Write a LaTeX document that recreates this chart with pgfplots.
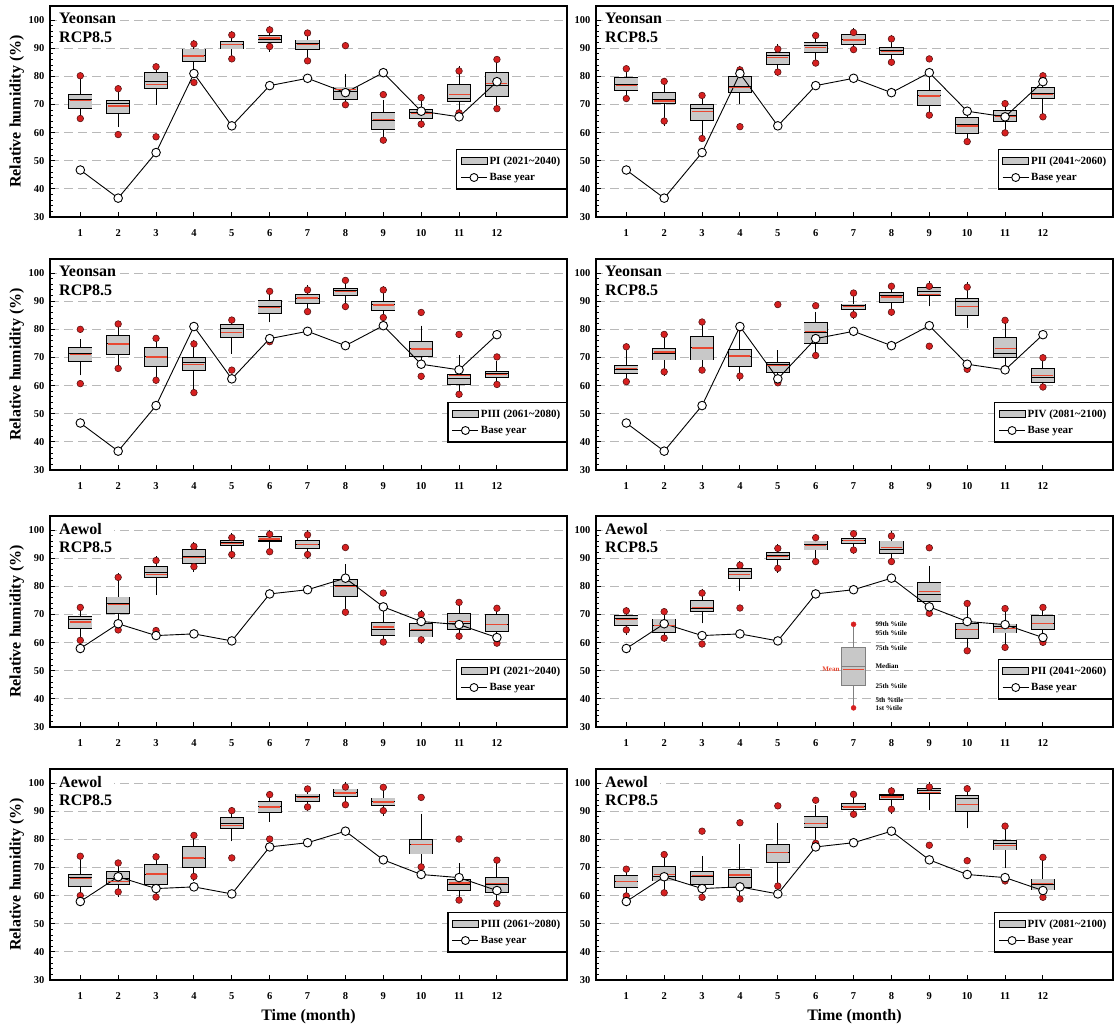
\documentclass[border=0pt]{standalone}
\usepackage{fontspec}
\setmainfont{Liberation Serif}
\usepackage{pgfplots}
\pgfplotsset{compat=1.18}
\usepackage{pgfplotstable}

\definecolor{boxgray}{RGB}{200,200,200}
\definecolor{gridgray}{RGB}{185,185,185}
\definecolor{meanred}{RGB}{232,72,50}
\definecolor{dotred}{RGB}{215,32,32}
\definecolor{dotedge}{RGB}{90,20,20}

% columns: month, 1st, 5th, 25th, median, mean, 75th, 95th, 99th percentile
\pgfplotstableread{
m p1 p5 p25 med mean p75 p95 p99
1 65.0 68.0 68.7 71.7 71.5 73.7 77.1 80.2
2 59.3 64.1 66.9 70.2 69.4 71.5 73.0 75.6
3 58.5 72.1 75.6 78.2 77.1 81.3 81.9 83.4
4 77.8 81.5 85.3 87.4 87.2 89.7 90.9 91.5
5 86.2 87.6 89.7 91.5 91.2 92.5 93.9 94.7
6 90.6 90.9 92.1 93.3 93.6 94.5 95.9 96.5
7 85.5 86.6 89.4 91.6 91.3 92.9 94.5 95.4
8 69.9 71.1 71.7 74.8 75.3 76.2 78.6 90.9
9 57.3 59.9 61.1 64.4 64.6 67.0 69.5 73.5
10 63.0 63.8 65.0 67.0 66.8 68.2 71.5 72.4
11 67.0 69.4 70.9 72.1 73.6 77.0 81.5 81.9
12 68.5 69.9 72.7 76.8 77.4 81.5 84.8 86.0
}\YI
\pgfplotstableread{
m p1 p5 p25 med mean p75 p95 p99
1 72.1 72.9 75.0 77.0 76.8 79.5 81.5 82.7
2 64.1 64.4 70.3 71.9 71.2 74.1 77.4 78.2
3 57.9 59.5 64.2 68.5 67.4 69.9 72.1 73.2
4 62.1 72.3 74.4 76.4 76.0 80.0 81.7 82.3
5 81.5 82.1 84.2 87.6 86.8 88.6 89.2 89.7
6 84.7 86.2 88.6 91.0 90.3 92.1 93.3 94.5
7 89.5 90.3 91.2 93.3 92.9 94.8 95.1 95.6
8 85.0 86.8 87.6 89.1 88.9 90.3 92.7 93.3
9 66.2 68.3 69.5 73.2 73.0 75.0 79.7 86.2
10 56.8 58.8 59.7 62.9 62.3 65.4 66.5 67.8
11 59.9 62.3 63.8 66.2 65.8 67.9 68.9 70.3
12 65.6 68.2 72.1 73.8 73.6 76.0 78.3 80.2
}\YII
\pgfplotstableread{
m p1 p5 p25 med mean p75 p95 p99
1 60.7 65.8 68.7 71.4 71.1 73.6 74.4 80.0
2 66.1 67.9 71.2 75.0 74.8 77.7 80.7 81.9
3 61.9 64.5 66.7 70.5 70.2 73.6 74.8 76.8
4 57.5 60.1 65.5 68.4 67.6 69.9 74.2 74.8
5 65.5 73.5 77.0 80.4 78.8 81.8 82.3 83.3
6 75.6 84.6 85.5 88.0 87.7 90.1 91.3 93.5
7 86.3 87.3 89.3 91.0 91.1 92.3 93.5 94.0
8 88.1 88.9 92.0 93.7 93.5 94.6 94.9 97.4
9 84.2 84.9 86.7 88.9 88.7 89.9 93.1 94.0
10 63.3 69.6 70.2 73.3 73.0 75.6 79.2 86.0
11 56.9 59.9 60.5 62.5 63.5 64.0 68.8 78.2
12 60.4 61.5 62.9 64.2 64.0 65.1 66.7 70.2
}\YIII
\pgfplotstableread{
m p1 p5 p25 med mean p75 p95 p99
1 61.4 62.5 64.3 65.8 66.1 67.3 70.8 73.8
2 64.9 65.5 69.1 71.4 71.9 73.1 75.0 78.2
3 65.5 67.5 69.1 73.6 73.4 77.6 81.7 82.6
4 63.4 63.8 66.7 70.3 70.5 72.8 78.7 80.5
5 61.0 62.8 64.6 67.5 67.2 68.1 70.5 88.8
6 70.7 73.2 75.0 79.0 79.3 82.3 84.1 88.4
7 85.2 85.8 87.0 88.4 88.2 89.0 91.1 92.9
8 86.1 87.0 89.4 92.0 91.5 93.2 94.5 95.3
9 74.0 90.3 92.0 93.5 92.3 94.9 95.0 95.3
10 65.8 82.6 84.9 90.0 88.0 91.1 94.7 95.0
11 66.0 69.5 70.1 71.3 73.2 77.2 81.7 83.2
12 59.5 60.4 61.0 63.0 63.6 66.0 68.5 69.9
}\YIV
\pgfplotstableread{
m p1 p5 p25 med mean p75 p95 p99
1 60.8 63.2 65.0 68.4 67.3 69.2 70.3 72.5
2 64.5 65.5 70.2 74.0 73.6 76.2 82.5 83.2
3 64.3 79.0 83.0 85.0 84.2 87.0 88.5 89.2
4 87.0 87.3 88.0 90.5 90.3 93.0 93.5 94.2
5 91.3 92.0 94.5 95.5 95.3 96.3 96.8 97.3
6 92.3 94.8 95.8 96.5 96.8 97.8 98.0 98.5
7 91.3 91.8 93.3 95.0 94.8 96.3 97.8 98.3
8 70.8 71.8 76.3 80.5 80.0 82.5 85.8 93.8
9 60.2 61.8 62.5 64.8 65.5 67.3 71.0 77.6
10 61.0 61.5 62.0 64.5 64.7 66.8 69.5 70.0
11 62.3 63.2 64.5 67.0 67.5 70.3 72.8 74.3
12 59.8 61.5 63.8 66.5 66.5 70.0 71.2 72.2
}\AI
\pgfplotstableread{
m p1 p5 p25 med mean p75 p95 p99
1 64.5 64.8 66.0 68.5 68.1 69.5 70.4 71.3
2 61.6 62.5 63.6 66.0 66.2 68.4 69.0 71.0
3 59.5 69.0 71.1 72.0 72.5 75.1 77.0 77.6
4 72.3 80.5 82.8 85.2 84.3 86.4 86.9 87.5
5 86.4 87.0 89.6 91.0 90.6 92.0 92.9 93.5
6 88.8 89.6 92.9 95.0 94.6 96.1 96.3 97.3
7 92.9 93.7 95.3 96.4 96.3 97.0 97.3 98.7
8 88.8 90.0 91.7 93.2 93.7 96.1 97.6 97.9
9 70.4 71.9 74.5 77.0 78.2 81.3 85.1 93.7
10 57.1 59.3 61.5 64.8 64.6 66.9 71.1 73.9
11 58.3 61.3 63.4 65.6 65.1 66.6 70.4 72.1
12 60.1 62.5 64.8 67.0 66.8 69.5 71.3 72.5
}\AII
\pgfplotstableread{
m p1 p5 p25 med mean p75 p95 p99
1 60.0 61.9 63.1 66.3 66.0 67.5 70.4 74.0
2 61.3 61.6 63.9 66.0 65.1 68.7 69.6 71.6
3 59.5 61.0 63.9 67.5 67.7 71.0 72.6 73.8
4 66.8 67.5 69.9 73.2 73.4 77.5 79.0 81.4
5 73.4 81.4 83.8 85.6 85.0 87.8 89.4 90.2
6 80.1 88.4 89.4 91.8 91.5 93.5 95.0 95.9
7 91.5 92.3 93.5 95.1 94.9 96.1 97.0 97.9
8 92.3 94.1 95.3 96.7 96.5 97.9 98.2 98.6
9 90.2 90.5 92.0 93.5 93.3 94.7 96.2 98.5
10 70.2 72.0 74.8 78.3 78.1 79.9 87.0 94.9
11 58.4 60.2 61.9 63.9 64.5 65.7 69.3 80.1
12 57.2 59.8 61.0 63.9 64.2 66.3 70.1 72.6
}\AIII
\pgfplotstableread{
m p1 p5 p25 med mean p75 p95 p99
1 59.9 60.8 62.8 65.1 64.9 67.1 67.9 69.4
2 61.0 62.3 65.2 66.9 67.5 70.2 73.4 74.6
3 59.4 62.8 63.8 67.0 67.1 68.5 72.0 82.9
4 58.8 61.2 62.9 66.4 67.3 69.4 76.2 85.9
5 63.4 64.9 71.7 75.3 75.3 78.3 83.6 91.9
6 78.6 78.8 84.2 85.8 85.6 88.2 90.0 93.9
7 88.9 90.0 90.6 91.7 91.5 92.7 94.1 96.0
8 90.7 91.3 94.1 95.5 95.0 96.0 96.5 97.2
9 77.9 92.4 96.2 97.4 96.6 98.0 98.3 98.6
10 72.4 86.0 90.0 94.7 92.4 95.6 96.2 98.0
11 65.2 71.8 76.2 78.5 77.7 79.7 83.6 84.7
12 59.4 61.4 62.0 64.0 64.3 65.9 70.5 73.6
}\AIV
% explanatory key box (panel Aewol PII)
\pgfplotstableread{
m p1 p5 p25 med mean p75 p95 p99
7 36.8 39.4 44.7 51.4 50.6 58.1 63.5 66.5
}\KEY
\pgfplotstableread{
m y
1 46.7
2 36.7
3 52.9
4 81.0
5 62.4
6 76.7
7 79.3
8 74.2
9 81.3
10 67.6
11 65.6
12 78.1
}\baseY
\pgfplotstableread{
m y
1 57.9
2 66.7
3 62.5
4 63.1
5 60.6
6 77.3
7 78.8
8 82.9
9 72.7
10 67.5
11 66.4
12 61.8
}\baseA

\pgfplotsset{
  panel/.style={
    scale only axis, width=517pt, height=211pt, anchor=south west,
    xmin=0.2, xmax=13.85, ymin=30, ymax=105,
    xtick={1,...,12}, ytick={30,40,...,100}, minor y tick num=4,
    tick pos=left, tick align=inside,
    major tick length=5pt, minor tick length=3pt,
    tick style={black, line width=0.9pt},
    axis line style={line width=1.7pt},
    ymajorgrids, major grid style={gridgray, line width=0.9pt, dash pattern=on 9pt off 5pt},
    tick label style={font=\bfseries\fontsize{10.5}{12}\selectfont},
    xticklabel style={yshift=-9pt},
    yticklabel style={xshift=-2pt},
    /pgf/number format/assume math mode=true,
    label style={font=\bfseries\fontsize{16}{19}\selectfont},
    ylabel style={at={(axis description cs:-0.064,0.5)}, anchor=center},
    xlabel style={at={(axis description cs:0.5,0)}, yshift=-37pt, anchor=center},
    legend cell align=left,
    legend style={at={(1,0.13)}, anchor=south east, draw=black, line width=1.4pt,
      font=\bfseries\fontsize{11}{13}\selectfont, inner xsep=4pt, inner ysep=5pt, row sep=3.5pt,
      /tikz/every even column/.append style={column sep=2pt}},
  },
  whiskst/.style={forget plot, draw=none, mark=none, error bars/.cd, y dir=both, y explicit,
    error mark=-, error mark options={#1, solid, line width=0.9pt, mark size=6pt},
    error bar style={draw=#1, solid, line width=0.9pt}},
  boxedge/.style={forget plot, draw=none, mark=none, error bars/.cd, y dir=both, y explicit,
    error mark=none, error bar style={draw=#1, solid, line width=24.3pt}},
  boxfill/.style={forget plot, draw=none, mark=none, error bars/.cd, y dir=both, y explicit,
    error mark=none, error bar style={draw=boxgray, solid, line width=22.5pt}},
  medst/.style={forget plot, only marks, mark=-, mark size=11.25pt, color=#1, mark options={line width=0.8pt, solid}},
  meanst/.style={forget plot, only marks, mark=-, mark size=10.5pt, color=meanred, mark options={line width=#1, solid}},
  dotst/.style={forget plot, only marks, mark=*, mark size=3.3pt, mark options={fill=dotred, draw=dotedge, line width=0.6pt, solid}},
  basest/.style={forget plot, black, line width=0.9pt, mark=*, mark size=4.3pt, mark options={fill=white, draw=black, line width=0.9pt, solid}},
  boxlegend/.style={legend image code/.code={\draw[draw=black, fill=boxgray, line width=1pt] (0pt,-3.5pt) rectangle (26pt,3.5pt);}},
  baselegend/.style={legend image code/.code={\draw[black, line width=0.9pt] (0pt,0pt) -- (26pt,0pt); \draw[black, fill=white, line width=0.9pt] (13pt,0pt) circle (4pt);}},
}
\tikzset{pname/.style={anchor=north west, xshift=7pt, yshift=-5pt, align=left, fill=white, inner sep=2pt, font=\bfseries\fontsize{16}{18.5}\selectfont}}

% one box-and-whisker set per month, drawn from a table
\newcommand{\boxes}[3]{% #1 table, #2 outline colour, #3 mean line width
  \addplot[whiskst=#2] table[x=m, y=med, y error plus expr=\thisrow{p95}-\thisrow{med}, y error minus expr=\thisrow{med}-\thisrow{p5}]{#1};
  \addplot[boxedge=#2] table[x=m, y=med, y error plus expr=\thisrow{p75}-\thisrow{med}+0.16, y error minus expr=\thisrow{med}-\thisrow{p25}+0.16]{#1};
  \addplot[boxfill] table[x=m, y=med, y error plus expr=\thisrow{p75}-\thisrow{med}-0.16, y error minus expr=\thisrow{med}-\thisrow{p25}-0.16]{#1};
  \addplot[medst=#2] table[x=m,y=med]{#1};
  \addplot[meanst=#3] table[x=m,y=mean]{#1};
}
\newcommand{\pdots}[1]{%
  \addplot[dotst] table[x=m,y=p1]{#1};
  \addplot[dotst] table[x=m,y=p99]{#1};
}
\newcommand{\legs}[1]{%
  \addlegendimage{boxlegend}\addlegendentry{#1}
  \addlegendimage{baselegend}\addlegendentry{Base year}
}

\begin{document}
\begin{tikzpicture}
\useasboundingbox (0,0) rectangle (1115pt,1028pt);
% Row 1
\begin{axis}[panel, at={(50pt,811pt)}, ylabel={Relative humidity (\%)}]
  \legs{PI (2021\textasciitilde2040)}
  \boxes{\YI}{black}{1.3pt}\pdots{\YI}
  \addplot[basest] table[x=m,y=y]{\baseY};
  \node[pname] at (rel axis cs:0,1) {Yeonsan\\RCP8.5};
\end{axis}
\begin{axis}[panel, at={(596pt,811pt)}]
  \legs{PII (2041\textasciitilde2060)}
  \boxes{\YII}{black}{1.3pt}\pdots{\YII}
  \addplot[basest] table[x=m,y=y]{\baseY};
  \node[pname] at (rel axis cs:0,1) {Yeonsan\\RCP8.5};
\end{axis}
% Row 2
\begin{axis}[panel, at={(50pt,558pt)}, ylabel={Relative humidity (\%)}]
  \legs{PIII (2061\textasciitilde2080)}
  \boxes{\YIII}{black}{1.3pt}\pdots{\YIII}
  \addplot[basest] table[x=m,y=y]{\baseY};
  \node[pname] at (rel axis cs:0,1) {Yeonsan\\RCP8.5};
\end{axis}
\begin{axis}[panel, at={(596pt,558pt)}]
  \legs{PIV (2081\textasciitilde2100)}
  \boxes{\YIV}{black}{1.3pt}\pdots{\YIV}
  \addplot[basest] table[x=m,y=y]{\baseY};
  \node[pname] at (rel axis cs:0,1) {Yeonsan\\RCP8.5};
\end{axis}
% Row 3
\begin{axis}[panel, at={(50pt,301pt)}, ylabel={Relative humidity (\%)}]
  \legs{PI (2021\textasciitilde2040)}
  \boxes{\AI}{black}{1.3pt}\pdots{\AI}
  \addplot[basest] table[x=m,y=y]{\baseA};
  \node[pname] at (rel axis cs:0,1) {Aewol\\RCP8.5};
\end{axis}
\begin{axis}[panel, at={(596pt,301pt)}]
  \legs{PII (2041\textasciitilde2060)}
  \boxes{\AII}{black}{1.3pt}\pdots{\AII}
  % explanatory key
  \boxes{\KEY}{gray}{0.7pt}
  \addplot[forget plot, only marks, mark=*, mark size=2.5pt, color=dotred, mark options={draw=none}] table[x=m,y=p1]{\KEY};
  \addplot[forget plot, only marks, mark=*, mark size=2.5pt, color=dotred, mark options={draw=none}] table[x=m,y=p99]{\KEY};
  \begin{scope}[every node/.style={anchor=west, font=\bfseries\fontsize{7}{8}\selectfont, inner sep=1pt}]
    \node at (axis cs:7.55,66.6) {99th \%tile};
    \node at (axis cs:7.55,63.4) {95th \%tile};
    \node at (axis cs:7.55,58.0) {75th \%tile};
    \node at (axis cs:7.55,51.6) {Median};
    \node at (axis cs:7.55,44.6) {25th \%tile};
    \node at (axis cs:7.55,39.6) {5th \%tile};
    \node at (axis cs:7.55,36.8) {1st \%tile};
    \node[anchor=east, text=meanred] at (axis cs:6.66,50.6) {Mean};
  \end{scope}
  \addplot[basest] table[x=m,y=y]{\baseA};
  \node[pname] at (rel axis cs:0,1) {Aewol\\RCP8.5};
\end{axis}
% Row 4
\begin{axis}[panel, at={(50pt,48pt)}, ylabel={Relative humidity (\%)}, xlabel={Time (month)}]
  \legs{PIII (2061\textasciitilde2080)}
  \boxes{\AIII}{black}{1.3pt}\pdots{\AIII}
  \addplot[basest] table[x=m,y=y]{\baseA};
  \node[pname] at (rel axis cs:0,1) {Aewol\\RCP8.5};
\end{axis}
\begin{axis}[panel, at={(596pt,48pt)}, xlabel={Time (month)}]
  \legs{PIV (2081\textasciitilde2100)}
  \boxes{\AIV}{black}{1.3pt}\pdots{\AIV}
  \addplot[basest] table[x=m,y=y]{\baseA};
  \node[pname] at (rel axis cs:0,1) {Aewol\\RCP8.5};
\end{axis}
\end{tikzpicture}
\end{document}
